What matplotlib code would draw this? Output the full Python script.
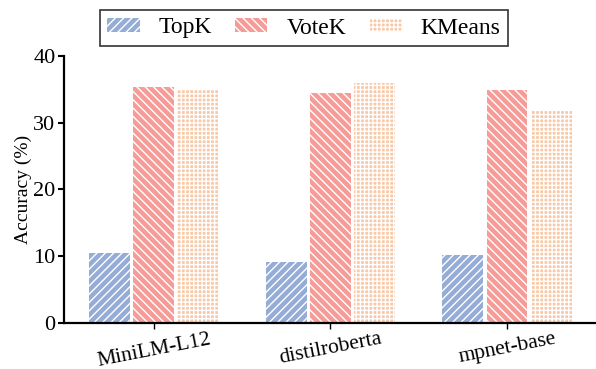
import numpy as np
import matplotlib
matplotlib.use('Agg')
import matplotlib.pyplot as plt

# data
models = ['MiniLM-L12', 'distilroberta', 'mpnet-base']
topk = [10.5, 9.1, 10.2]
votek = [35.4, 34.4, 34.9]
kmeans = [35.1, 36.0, 31.8]

plt.rcParams['font.family'] = 'Liberation Serif'
plt.rcParams['hatch.linewidth'] = 1.0

fig = plt.figure(figsize=(5.96, 3.69), dpi=100)
ax = fig.add_axes([0.107, 0.125, 0.893, 0.723])

x = np.arange(len(models))
w = 0.232
step = 0.25
ax.bar(x - step, topk, w, color='#94acd6', edgecolor='white', hatch='////', linewidth=0, label='TopK')
ax.bar(x, votek, w, color='#f59b98', edgecolor='white', hatch='\\\\\\\\', linewidth=0, label='VoteK')
ax.bar(x + step, kmeans, w, color='#f8c9a8', edgecolor='white', hatch='++++', linewidth=0, label='KMeans')

ax.set_xlim(-0.51, 2.504)
ax.set_ylim(0, 40)
ax.set_yticks([0, 10, 20, 30, 40])
ax.set_xticks(x)
ax.set_xticklabels(models, rotation=11, fontsize=15.5)
ax.tick_params(axis='y', labelsize=16, width=1.5, length=4, pad=2)
ax.tick_params(axis='x', width=1, length=4, pad=1)
ax.set_ylabel('Accuracy (%)', fontsize=14, labelpad=1)

for s in ['top', 'right']:
    ax.spines[s].set_visible(False)
for s in ['left', 'bottom']:
    ax.spines[s].set_linewidth(1.6)

leg = ax.legend(ncol=3, loc='center', bbox_to_anchor=(304 / 596, 1 - 28 / 369),
                bbox_transform=fig.transFigure, fontsize=17,
                frameon=True, fancybox=False, edgecolor='black',
                handlelength=1.36, handleheight=0.5, handletextpad=0.8,
                columnspacing=1.0, borderpad=0.3, borderaxespad=0)
leg.get_frame().set_linewidth(1.2)

plt.savefig('out.png', dpi=100)
plt.close()
